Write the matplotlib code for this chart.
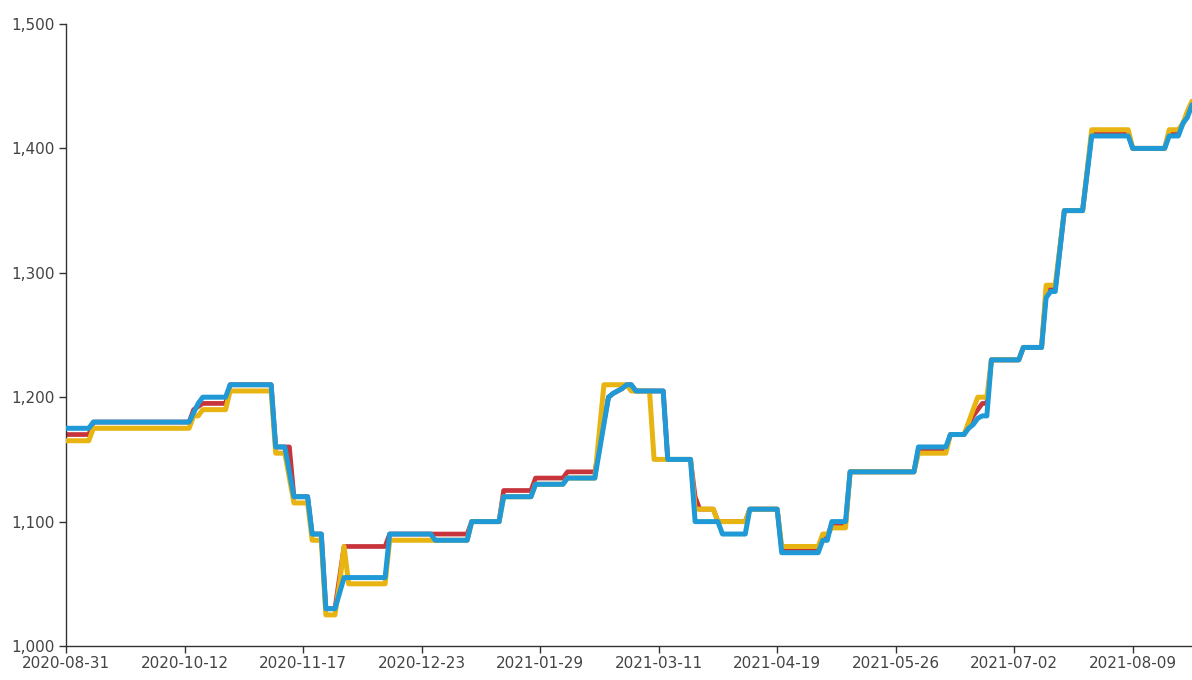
import matplotlib
matplotlib.use("Agg")
import matplotlib.pyplot as plt
from matplotlib.ticker import FuncFormatter, FixedLocator

# Tick labels on the category (day-index) axis, one every 26 days
tick_labels = ["2020-08-31", "2020-10-12", "2020-11-17", "2020-12-23", "2021-01-29",
               "2021-03-11", "2021-04-19", "2021-05-26", "2021-07-02", "2021-08-09"]
days_per_tick = 26
last_day = 247

# Series vertices: (day index, price)
blue_x = [0, 5, 6, 27, 29, 30, 35, 36, 45, 46, 48, 50, 53, 54, 56, 57, 59, 61, 70, 71,
          80, 81, 88, 89, 95, 96, 102, 103, 109, 110, 116, 119, 120, 122, 123, 124, 125,
          131, 132, 137, 138, 143, 144, 149, 150, 156, 157, 165, 166, 167, 168, 171, 172,
          186, 187, 193, 194, 197, 198, 199, 200, 201, 202, 203, 209, 210, 214, 215, 216,
          217, 219, 223, 225, 233, 234, 241, 242, 244, 245, 246, 247]
blue_y = [1175, 1175, 1180, 1180, 1195, 1200, 1200, 1210, 1210, 1160, 1160, 1120, 1120, 1090,
          1090, 1030, 1030, 1055, 1055, 1090, 1090, 1085, 1085, 1100, 1100, 1120, 1120, 1130,
          1130, 1135, 1135, 1200, 1203, 1207, 1210, 1210, 1205, 1205, 1150, 1150, 1100, 1100,
          1090, 1090, 1110, 1110, 1075, 1075, 1085, 1085, 1100, 1100, 1140, 1140, 1160, 1160,
          1170, 1170, 1175, 1178, 1183, 1185, 1185, 1230, 1230, 1240, 1240, 1280, 1285, 1285,
          1350, 1350, 1410, 1410, 1400, 1400, 1410, 1410, 1420, 1425, 1435]

red_x = [0, 5, 6, 27, 28, 30, 35, 36, 45, 46, 49, 50, 53, 54, 56, 57, 59, 61, 70, 71,
         88, 89, 95, 96, 102, 103, 109, 110, 116, 119, 120, 122, 123, 124, 125,
         131, 132, 137, 138, 139, 142, 143, 149, 150, 156, 157, 165, 166, 167, 168, 171, 172,
         186, 187, 193, 194, 197, 198, 199, 200, 201, 202, 203, 209, 210, 214, 215, 216,
         217, 219, 223, 225, 233, 234, 241, 242, 244, 245, 246, 247]
red_y = [1170, 1170, 1180, 1180, 1190, 1195, 1195, 1210, 1210, 1160, 1160, 1120, 1120, 1090,
         1090, 1030, 1030, 1080, 1080, 1090, 1090, 1100, 1100, 1125, 1125, 1135, 1135, 1140,
         1140, 1200, 1203, 1207, 1210, 1210, 1205, 1205, 1150, 1150, 1120, 1110, 1110, 1100,
         1100, 1110, 1110, 1078, 1078, 1088, 1088, 1098, 1098, 1140, 1140, 1158, 1158,
         1170, 1170, 1178, 1185, 1190, 1195, 1195, 1230, 1230, 1240, 1240, 1285, 1287, 1287,
         1350, 1350, 1412, 1412, 1400, 1400, 1412, 1412, 1420, 1428, 1436]

yellow_x = [0, 5, 6, 27, 28, 29, 30, 35, 36, 45, 46, 48, 50, 53, 54, 56, 57, 59, 60, 61, 62,
            70, 71, 88, 89, 95, 96, 102, 103, 109, 110, 116, 118, 123, 124, 128, 129, 137,
            138, 142, 143, 149, 150, 156, 157, 165, 166, 167, 168, 171, 172, 186, 187, 193,
            194, 197, 198, 199, 200, 202, 203, 209, 210, 214, 215, 217, 219, 223, 225, 233,
            234, 241, 242, 244, 245, 246, 247]
yellow_y = [1165, 1165, 1175, 1175, 1185, 1185, 1190, 1190, 1205, 1205, 1155, 1155, 1115, 1115,
            1085, 1085, 1025, 1025, 1050, 1080, 1050, 1050, 1085, 1085, 1100, 1100, 1120, 1120,
            1130, 1130, 1135, 1135, 1210, 1210, 1205, 1205, 1150, 1150, 1110, 1110, 1100, 1100,
            1110, 1110, 1080, 1080, 1090, 1090, 1095, 1095, 1140, 1140, 1155, 1155, 1170, 1170,
            1180, 1190, 1200, 1200, 1230, 1230, 1240, 1240, 1290, 1290, 1350, 1350, 1415, 1415,
            1400, 1400, 1415, 1415, 1420, 1430, 1438]

y_ticks = [1000, 1100, 1200, 1300, 1400, 1500]

RED = "#c8343c"
YELLOW = "#e8b412"
BLUE = "#1f9ad6"
AXIS = "#333333"

plt.rcParams['font.family'] = ['DejaVu Sans']
fig = plt.figure(figsize=(11.92, 6.80), dpi=100)
ax = fig.add_axes([66 / 1192, 34 / 680, (1192 - 66) / 1192, (646 - 24) / 680])

common = dict(solid_joinstyle='round', solid_capstyle='round')
ax.plot(red_x, red_y, color=RED, lw=3.4, zorder=2, **common)
ax.plot(yellow_x, yellow_y, color=YELLOW, lw=3.6, zorder=3, **common)
ax.plot(blue_x, blue_y, color=BLUE, lw=3.6, zorder=4, **common)

ax.set_xlim(0, last_day)
ax.set_ylim(1000, 1500)
ax.xaxis.set_major_locator(FixedLocator([i * days_per_tick for i in range(len(tick_labels))]))
ax.set_xticklabels(tick_labels)
ax.set_yticks(y_ticks)
ax.yaxis.set_major_formatter(FuncFormatter(lambda v, p: f"{int(v):,}"))

for s in ["top", "right"]:
    ax.spines[s].set_visible(False)
for s in ["left", "bottom"]:
    ax.spines[s].set_color(AXIS)
    ax.spines[s].set_linewidth(1.0)
ax.tick_params(axis='both', colors=AXIS, length=5, width=1, labelsize=11, labelcolor="#444444")
ax.tick_params(axis='x', pad=2)
ax.tick_params(axis='y', pad=3)

fig.savefig("out.png", dpi=100)
